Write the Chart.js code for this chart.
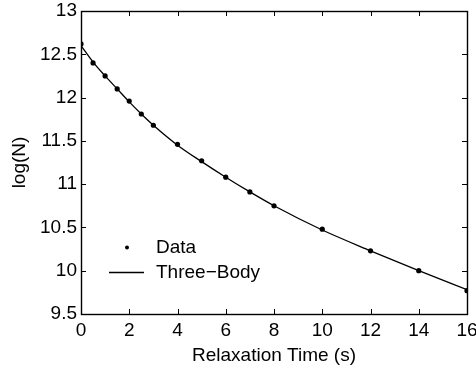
<!DOCTYPE html>
<html>
<head>
<meta charset="utf-8">
<script src="https://cdn.jsdelivr.net/npm/chart.js@4/dist/chart.umd.min.js"></script>
<style>
  html, body { margin: 0; padding: 0; background: #fff; }
  #c { display: block; }
</style>
</head>
<body>
<canvas id="c" width="476" height="372"></canvas>
<script>
// relaxation times (s)
const times = [0, 0.5, 1, 1.5, 2, 2.5, 3, 4, 5, 6, 7, 8, 10, 12, 14, 16];
// measured log(N)
const dataValues = [12.62, 12.40, 12.25, 12.10, 11.96, 11.81, 11.68, 11.46, 11.27, 11.08, 10.91, 10.75, 10.48, 10.23, 10.00, 9.77];
// three-body fit
const fitValues = [12.60, 12.41, 12.25, 12.10, 11.95, 11.81, 11.68, 11.45, 11.26, 11.08, 10.91, 10.75, 10.47, 10.23, 10.00, 9.78];
const xTicks = [0, 2, 4, 6, 8, 10, 12, 14, 16];
const yTicks = [9.5, 10, 10.5, 11, 11.5, 12, 12.5, 13];
const legendLabels = ['Data', 'Three\u2212Body'];

const FONT = 'Liberation Sans, Arial, Helvetica, sans-serif';
const FSIZE = 19;

// MATLAB style ticks pointing inward on all four sides, plus the box
const boxTicks = {
    id: 'boxTicks',
    afterDraw(chart) {
        const { ctx, chartArea: a, scales } = chart;
        const len = 5;
        ctx.save();
        ctx.strokeStyle = '#000';
        ctx.lineWidth = 1;
        ctx.beginPath();
        xTicks.forEach(v => {
            const x = Math.round(scales.x.getPixelForValue(v)) + 0.5;
            ctx.moveTo(x, a.bottom); ctx.lineTo(x, a.bottom - len);
            ctx.moveTo(x, a.top); ctx.lineTo(x, a.top + len);
        });
        yTicks.forEach(v => {
            const y = Math.round(scales.y.getPixelForValue(v)) + 0.5;
            ctx.moveTo(a.left, y); ctx.lineTo(a.left + len, y);
            ctx.moveTo(a.right, y); ctx.lineTo(a.right - len, y);
        });
        ctx.stroke();
        ctx.lineWidth = 1.4;
        ctx.strokeRect(Math.round(a.left) + 0.5, Math.round(a.top) + 0.5,
            Math.round(a.right - a.left), Math.round(a.bottom - a.top));

        // legend in the lower-left corner of the axes
        ctx.font = FSIZE + 'px ' + FONT;
        ctx.fillStyle = '#000';
        ctx.textBaseline = 'middle';
        const lx = a.left + 28, ty = a.top + 236.5;
        ctx.beginPath();
        ctx.arc(lx + 18, ty, 2, 0, Math.PI * 2);
        ctx.fill();
        ctx.fillText(legendLabels[0], lx + 47, ty);
        ctx.beginPath();
        ctx.lineWidth = 1.3;
        ctx.moveTo(lx, ty + 25); ctx.lineTo(lx + 35, ty + 25);
        ctx.stroke();
        ctx.fillText(legendLabels[1], lx + 47, ty + 25);
        ctx.restore();
    }
};

new Chart(document.getElementById('c'), {
    type: 'scatter',
    data: {
        datasets: [
            {
                label: legendLabels[0],
                data: times.map((t, i) => ({ x: t, y: dataValues[i] })),
                showLine: false,
                pointRadius: 2.6,
                pointBackgroundColor: '#000',
                pointBorderWidth: 0
            },
            {
                label: legendLabels[1],
                data: times.map((t, i) => ({ x: t, y: fitValues[i] })),
                showLine: true,
                borderColor: '#000',
                borderWidth: 1.3,
                pointRadius: 0,
                cubicInterpolationMode: 'monotone'
            }
        ]
    },
    options: {
        responsive: false,
        animation: false,
        layout: { padding: { top: 11, right: 9, left: 0, bottom: 0 } },
        plugins: { legend: { display: false }, tooltip: { enabled: false } },
        scales: {
            x: {
                type: 'linear',
                min: 0, max: 16,
                afterFit: s => { s.height = 58; s.paddingLeft = 0; s.paddingRight = 0; },
                afterBuildTicks: s => { s.ticks = xTicks.map(v => ({ value: v })); },
                grid: { display: false, drawTicks: false },
                border: { display: false },
                ticks: { color: '#000', padding: 5, font: { family: FONT, size: FSIZE } },
                title: { display: true, text: 'Relaxation Time (s)', color: '#000', padding: { top: 0, bottom: 5 }, font: { family: FONT, size: FSIZE } }
            },
            y: {
                type: 'linear',
                min: 9.5, max: 13,
                afterFit: s => { s.width = 81; s.paddingTop = 0; s.paddingBottom = 0; },
                afterBuildTicks: s => { s.ticks = yTicks.map(v => ({ value: v })); },
                grid: { display: false, drawTicks: false },
                border: { display: false },
                ticks: { color: '#000', padding: 4, font: { family: FONT, size: FSIZE }, callback: v => String(v) },
                title: { display: true, text: 'log(N)', color: '#000', padding: { top: 8, bottom: 0 }, font: { family: FONT, size: FSIZE } }
            }
        }
    },
    plugins: [boxTicks]
});
</script>
</body>
</html>
